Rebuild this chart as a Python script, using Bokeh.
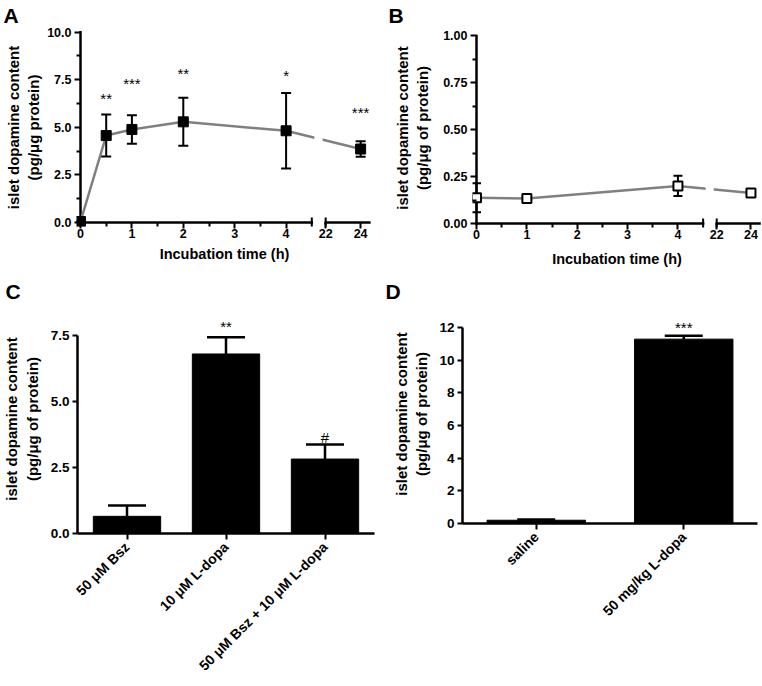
import math
from bokeh.plotting import figure
from bokeh.models import (Range1d, FixedTicker, PrintfTickFormatter,
                          CustomJSTickFormatter, Title, BoxAnnotation, ColumnDataSource)
from bokeh.layouts import row, column
from bokeh.embed import file_html
from bokeh.resources import INLINE
from bokeh.core.properties import value

FONT = "Liberation Sans"

# ---------------- data ----------------
# Panel A: islet dopamine content after incubation with L-dopa
a_time = [0, 0.5, 1, 2, 4, 24]
a_mean = [0.05, 4.57, 4.89, 5.29, 4.82, 3.86]
a_sem = [0.0, 1.10, 0.75, 1.26, 1.98, 0.41]
a_sig = ["", "**", "***", "**", "*", "***"]
a_sig_y = [0.0, 6.52, 7.32, 7.84, 7.75, 5.78]

# Panel B: control incubation
b_time = [0, 1, 4, 24]
b_mean = [0.137, 0.133, 0.200, 0.163]
b_sem = [0.077, 0.008, 0.054, 0.008]
b_sig = ["", "", "", ""]
b_sig_y = [0.0, 0.0, 0.0, 0.0]

# Panel C
c_groups = ["50 μM Bsz", "10 μM L-dopa", "50 μM Bsz + 10 μM L-dopa"]
c_mean = [0.65, 6.80, 2.82]
c_sem = [0.41, 0.63, 0.55]
c_sig = ["", "**", "#"]
c_sig_y = [0.0, 7.84, 3.64]

# Panel D
d_groups = ["saline", "50 mg/kg L-dopa"]
d_mean = [0.20, 11.29]
d_sem = [0.05, 0.20]
d_sig = ["", "***"]
d_sig_y = [0.0, 12.03]

time_ticks = [0, 1, 2, 3, 4, 22, 24]
time_minor = [0.5, 1.5, 2.5, 3.5]
a_yticks = [0, 2.5, 5, 7.5, 10]
a_yminor = [1.25, 3.75, 6.25, 8.75]
b_yticks = [0, 0.25, 0.5, 0.75, 1.0]
b_yminor = [0.125, 0.375, 0.625, 0.875]
c_yticks = [0, 2.5, 5, 7.5]
d_yticks = [0, 2, 4, 6, 8, 10, 12]

YT_A = "islet dopamine content\n(pg/μg protein)"
YT_B = "islet dopamine content\n(pg/μg of protein)"
X_TITLE = "Incubation time (h)"

# broken time axis: 0-4.5 h, then 22-24.5 h compressed
BREAK_START = 4.5
BREAK_END = 22.0
AXIS_END = 24.5
GAP = 0.27
SCALE2 = 0.34


def brk(t):
    t = float(t)
    if t <= BREAK_START:
        return t
    return BREAK_START + GAP + (t - BREAK_END) * SCALE2


def new_figure(**kw):
    p = figure(output_backend="svg", toolbar_location=None, tools="", title_location=None, **kw)
    if "frame_align" in p.properties():
        p.frame_align = False
    return p


def style_axes(p, tick_size):
    p.grid.visible = False
    p.outline_line_color = None
    for ax in p.axis:
        ax.major_label_text_font = FONT
        ax.major_label_text_font_style = "bold"
        ax.major_label_text_font_size = tick_size
        ax.major_label_text_color = "black"
        ax.axis_label_text_font = FONT
        ax.axis_label_text_font_style = "bold"
        ax.axis_label_text_font_size = "15px"
        ax.axis_label_text_color = "black"
        ax.axis_label_text_line_height = 1.2
        ax.axis_line_color = "black"
        ax.axis_line_width = 2.5
        ax.major_tick_line_color = "black"
        ax.major_tick_line_width = 2
        ax.minor_tick_line_color = "black"
        ax.minor_tick_line_width = 2


def add_letter(p, letter, off):
    p.add_layout(Title(text=letter, align="left", offset=off, standoff=0, vertical_align="top",
                       text_font=FONT, text_font_size="21px", text_font_style="bold",
                       text_color="black"), "above")


def time_panel(times, means, sems, sig, sig_y, yticks, yminor, ytop, yfmt, W, H, bl, br, bt, bb,
               kx, ky, filled, msize, capw, ytitle, ystand, letter, loff, xstand):
    OFF = 4
    FW = W - bl - br
    FH = H - bt - bb
    p = new_figure(width=W, height=H, x_range=Range1d(-OFF / kx, (FW - OFF) / kx),
                   y_range=Range1d(-OFF / ky, (FH - OFF) / ky),
                   min_border_left=bl, min_border_right=br, min_border_top=bt,
                   min_border_bottom=bb)
    pos = [brk(t) for t in times]
    src = ColumnDataSource(dict(x=pos, y=means,
                                lo=[m - s for m, s in zip(means, sems)],
                                hi=[m + s for m, s in zip(means, sems)],
                                sig=sig, sig_y=sig_y))
    # axis lines (x axis broken)
    p.segment(x0=[0, 0, brk(BREAK_END)], y0=[0, 0, 0],
              x1=[0, brk(BREAK_START), brk(AXIS_END)], y1=[ytop, 0, 0],
              line_color="black", line_width=2.5, line_cap="square")
    c = 5.0 / ky
    p.segment(x0=[brk(BREAK_START), brk(BREAK_END)], y0=[-c, -c],
              x1=[brk(BREAK_START), brk(BREAK_END)], y1=[c, c],
              line_color="black", line_width=2)
    p.line("x", "y", source=src, line_color="#808080", line_width=2.5)
    p.segment("x", "lo", "x", "hi", source=src, line_color="black", line_width=2)
    p.scatter("x", "lo", source=src, marker="dash", size=capw, line_color="black", line_width=2)
    p.scatter("x", "hi", source=src, marker="dash", size=capw, line_color="black", line_width=2)
    p.scatter("x", "y", source=src, marker="square", size=msize,
              fill_color="black" if filled else "white", line_color="black",
              line_width=1 if filled else 2)
    p.text("x", "sig_y", text="sig", source=src, text_align="center", text_baseline="alphabetic",
           text_font=value(FONT), text_font_size="15px", text_color="black")
    p.add_layout(BoxAnnotation(left=brk(BREAK_START) + 0.05, right=brk(BREAK_END) - 0.06,
                               bottom=7.0 / ky, fill_color="white", fill_alpha=1.0,
                               line_color=None))

    style_axes(p, "12.5px")
    xa = p.xaxis[0]
    xpos = [brk(t) for t in time_ticks]
    xa.ticker = FixedTicker(ticks=xpos, minor_ticks=[brk(t) for t in time_minor])
    xa.formatter = CustomJSTickFormatter(
        args=dict(pos=xpos, lab=[str(t) for t in time_ticks]),
        code="for (let i = 0; i < pos.length; i++) { if (Math.abs(tick - pos[i]) < 1e-6) return lab[i]; } return '';")
    xa.axis_line_color = None
    xa.major_tick_in = OFF
    xa.major_tick_out = 2
    xa.minor_tick_in = OFF
    xa.minor_tick_out = 0
    xa.major_label_standoff = 0
    xa.axis_label = X_TITLE
    xa.axis_label_standoff = xstand
    xa.axis_label_text_font_size = "14.5px"

    ya = p.yaxis[0]
    ya.ticker = FixedTicker(ticks=yticks, minor_ticks=yminor)
    ya.formatter = PrintfTickFormatter(format=yfmt)
    ya.axis_line_color = None
    ya.major_tick_in = OFF
    ya.major_tick_out = 2
    ya.minor_tick_in = OFF
    ya.minor_tick_out = 0
    ya.major_label_standoff = 3
    ya.axis_label = ytitle
    ya.axis_label_standoff = ystand

    add_letter(p, letter, loff)
    return p


def bar_panel(groups, means, sems, sig, sig_y, yticks, ytop, yfmt, W, H, bl, br, bt, bb,
              ky, bar_w, capw, ytitle, ystand, letter, loff):
    FH = H - bt - bb
    n = len(groups)
    centers = [i + 0.5 for i in range(n)]   # one unit per category
    p = new_figure(width=W, height=H, x_range=Range1d(0, n), y_range=Range1d(0, FH / ky),
                   min_border_left=bl, min_border_right=br, min_border_top=bt,
                   min_border_bottom=bb)
    src = ColumnDataSource(dict(g=centers, m=means, hi=[m + s for m, s in zip(means, sems)],
                                sig=sig, sig_y=sig_y))
    p.segment("g", "m", "g", "hi", source=src, line_color="black", line_width=2.5)
    p.scatter("g", "hi", source=src, marker="dash", size=capw, line_color="black", line_width=2.5)
    p.vbar(x="g", top="m", width=bar_w, source=src, fill_color="black", line_color="black")
    p.text("g", "sig_y", text="sig", source=src, text_align="center", text_baseline="alphabetic",
           text_font=value(FONT), text_font_size="15px", text_color="black")
    style_axes(p, "13.5px")
    xa = p.xaxis[0]
    xa.ticker = FixedTicker(ticks=centers, minor_ticks=[])
    xa.formatter = CustomJSTickFormatter(args=dict(labels=groups),
                                         code="return labels[Math.round(tick - 0.5)];")
    xa.major_tick_in = 0
    xa.major_tick_out = 6
    xa.minor_tick_line_color = None
    xa.major_label_orientation = math.pi / 4
    xa.major_label_standoff = 5
    xa.axis_label_standoff = 0
    xa.major_label_text_font_size = "14px"
    ya = p.yaxis[0]
    ya.ticker = FixedTicker(ticks=yticks)
    ya.formatter = PrintfTickFormatter(format=yfmt)
    ya.bounds = (0, ytop)
    ya.major_tick_in = 0
    ya.major_tick_out = 5
    ya.minor_tick_line_color = None
    ya.major_label_standoff = 3
    ya.axis_label = ytitle
    ya.axis_label_standoff = ystand
    add_letter(p, letter, loff)
    return p


pA = time_panel(a_time, a_mean, a_sem, a_sig, a_sig_y, a_yticks, a_yminor, 10, "%.1f",
                W=385, H=278, bl=76, br=13, bt=28, bb=52, kx=51.4, ky=19.03,
                filled=True, msize=10, capw=10, ytitle=YT_A, ystand=2,
                letter="A", loff=-73, xstand=5)
pB = time_panel(b_time, b_mean, b_sem, b_sig, b_sig_y, b_yticks, b_yminor, 1.0, "%.2f",
                W=377, H=278, bl=87, br=1, bt=28, bb=51, kx=50.36, ky=187.6,
                filled=False, msize=9, capw=9, ytitle=YT_B, ystand=9,
                letter="B", loff=-84, xstand=9)
pC = bar_panel(c_groups, c_mean, c_sem, c_sig, c_sig_y, c_yticks, 7.5, "%.1f",
               W=385, H=408, bl=77, br=11, bt=26, bb=153, ky=26.4, bar_w=0.68, capw=38,
               ytitle=YT_B, ystand=7, letter="C", loff=-72)
pD = bar_panel(d_groups, d_mean, d_sem, d_sig, d_sig_y, d_yticks, 12, "%d",
               W=377, H=408, bl=77, br=5, bt=26, bb=163, ky=16.33, bar_w=0.667, capw=38,
               ytitle=YT_B, ystand=6, letter="D", loff=-77)

layout = column(row(pA, pB), row(pC, pD))
open("out.html", "w").write(file_html(layout, INLINE))
